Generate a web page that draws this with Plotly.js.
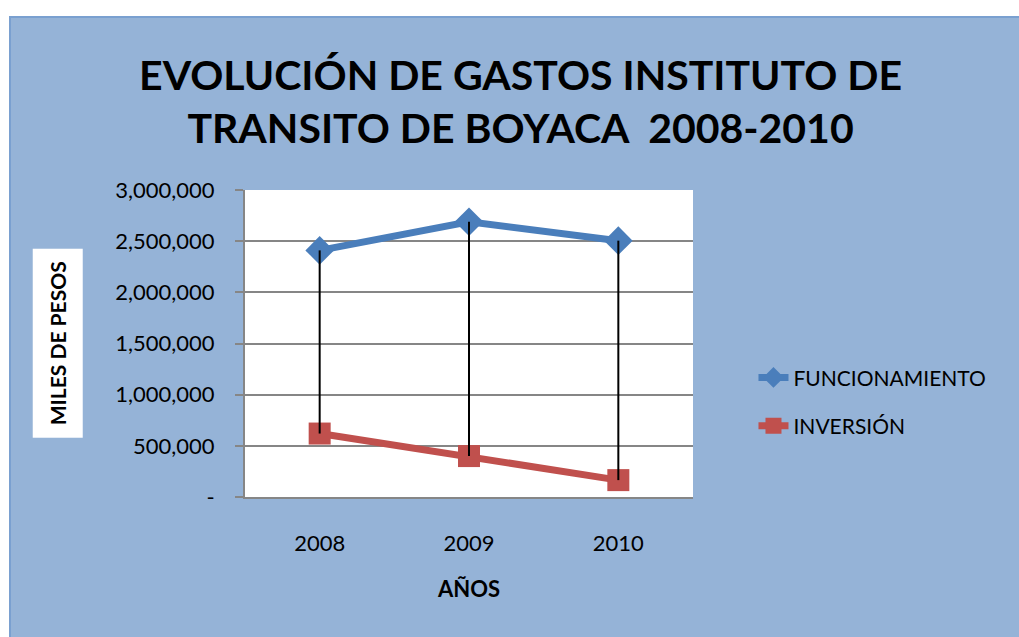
<!DOCTYPE html>
<html>
<head>
<meta charset="utf-8">
<script src="https://cdn.plot.ly/plotly-3.0.1.min.js"></script>
<style>
  html, body { margin: 0; padding: 0; background: #ffffff; width: 1019px; height: 637px; overflow: hidden; }
  #frame { position: absolute; left: 9px; top: 16px; width: 1010px; height: 621px; background: #95b3d7;
           border-top: 2px solid #7aa0d0; border-left: 2px solid #7aa0d0; box-sizing: border-box; }
  #chart { position: absolute; left: 10px; top: 17px; width: 1009px; height: 620px; }
</style>
</head>
<body>
<div id="frame"></div>
<div id="chart"></div>
<script>
const years = ['2008', '2009', '2010'];
const funcionamiento = [2410000, 2690000, 2505000];
const inversion = [620000, 400000, 165000];
const tickValues = [0, 500000, 1000000, 1500000, 2000000, 2500000, 3000000];
const tickLabels = ['-', '500,000', '1,000,000', '1,500,000', '2,000,000', '2,500,000', '3,000,000'];

const FONT = 'Lato, "Open Sans", sans-serif';

// high-low lines built from the two series
const hlX = [], hlY = [];
years.forEach((yr, i) => {
  hlX.push(yr, yr, null);
  hlY.push(funcionamiento[i], inversion[i], null);
});

const traces = [
  {
    x: years, y: funcionamiento, name: 'FUNCIONAMIENTO', type: 'scatter', mode: 'lines+markers',
    line: { color: '#4a7ebb', width: 7 },
    marker: { symbol: 'diamond', size: 22, color: '#4a7ebb' },
    legendgroup: 'a'
  },
  {
    x: years, y: inversion, name: 'INVERSIÓN', type: 'scatter', mode: 'lines+markers',
    line: { color: '#c0504d', width: 7 },
    marker: { symbol: 'square', size: 22, color: '#c0504d' },
    legendgroup: 'b'
  },
  {
    x: hlX, y: hlY, type: 'scatter', mode: 'lines', showlegend: false, hoverinfo: 'skip',
    line: { color: '#000000', width: 2 }
  }
];

const layout = {
  width: 1009, height: 620,
  paper_bgcolor: 'rgba(0,0,0,0)',
  plot_bgcolor: '#ffffff',
  margin: { l: 235, r: 326, t: 173, b: 140 },
  font: { family: FONT, color: '#000000', size: 22 },
  title: {
    text: 'EVOLUCIÓN DE GASTOS INSTITUTO DE<br>TRANSITO DE BOYACA  2008-2010',
    font: { family: FONT, size: 41, color: '#000000', weight: 'bold' },
    x: 0.506, xanchor: 'center', y: 0.882, yanchor: 'middle'
  },
  xaxis: {
    type: 'category', range: [-0.5, 2.5],
    showgrid: false, zeroline: false,
    showline: true, linecolor: '#868686', linewidth: 2,
    ticks: '', tickfont: { family: FONT, size: 22 },
    ticklabelstandoff: 26,
    title: { text: 'AÑOS', font: { family: FONT, size: 22, weight: 'bold' }, standoff: 26 }
  },
  yaxis: {
    range: [0, 3000000], tickvals: tickValues, ticktext: tickLabels,
    showgrid: true, gridcolor: '#868686', gridwidth: 2,
    zeroline: false, showline: true, linecolor: '#868686', linewidth: 2,
    ticks: 'outside', ticklen: 8, tickcolor: '#868686', tickwidth: 2,
    ticklabelstandoff: 16,
    tickfont: { family: FONT, size: 22 }
  },
  legend: {
    x: 1.135, xanchor: 'left', y: 0.455, yanchor: 'top',
    bgcolor: 'rgba(0,0,0,0)', font: { family: FONT, size: 21 },
    traceorder: 'grouped', tracegroupgap: 18
  },
  annotations: [
    {
      text: '<b>MILES DE PESOS</b>', textangle: -90,
      xref: 'paper', yref: 'paper', x: -0.418, y: 0.5, xanchor: 'center', yanchor: 'middle',
      showarrow: false, bgcolor: '#ffffff', borderpad: 12,
      font: { family: FONT, size: 21, color: '#000000' }
    }
  ],
  showlegend: true
};

Plotly.newPlot('chart', traces, layout, { displayModeBar: false, staticPlot: true });
</script>
</body>
</html>
